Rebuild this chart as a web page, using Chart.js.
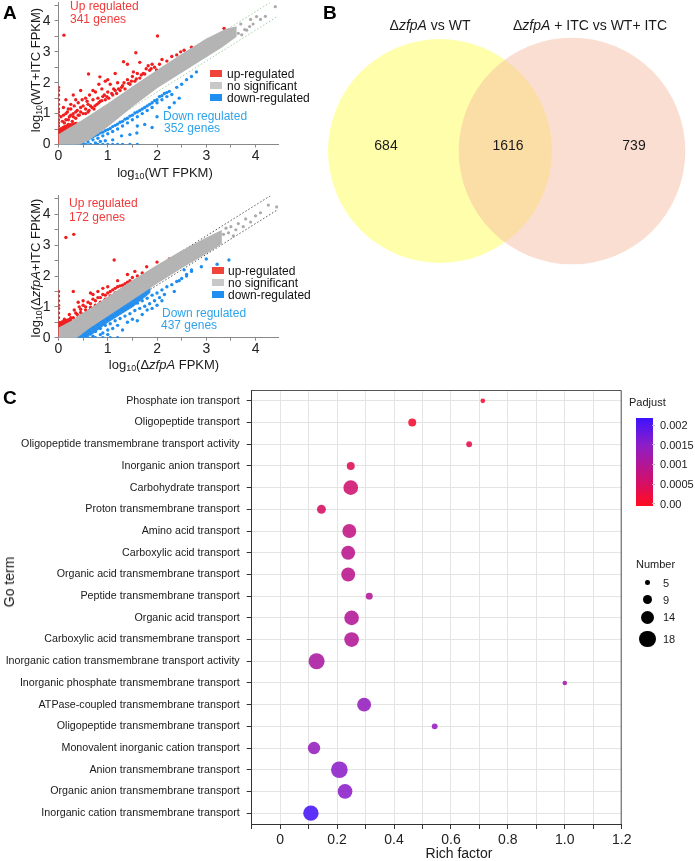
<!DOCTYPE html>
<html>
<head>
<meta charset="utf-8">
<script src="https://cdn.jsdelivr.net/npm/chart.js@4.4.1/dist/chart.umd.min.js"></script>
<style>
  body { margin: 0; background: #fff; font-family: "Liberation Sans", Arial, sans-serif; color: #1a1a1a; }
  #page { position: relative; width: 695px; height: 861px; overflow: hidden; }
  canvas { position: absolute; }
  .t { position: absolute; white-space: nowrap; line-height: 1; }
  .c { transform: translate(-50%, -50%); }
  .l { transform: translateY(-50%); }
  .v { transform: translate(-50%, -50%) rotate(-90deg); }
  .panel { font-weight: bold; font-size: 19px; color: #000; }
  sub { font-size: 68%; vertical-align: -0.3em; line-height: 0; }
  .up { color: #f23a3a; font-size: 12px; }
  .down { color: #2ea3ea; font-size: 12px; }
  .key { position: absolute; width: 12px; height: 7px; }
  .lg { font-size: 12px; color: #111; }
</style>
</head>
<body>
<div id="page">
  <canvas id="scatterWT" width="295" height="170" style="left:0;top:0"></canvas>
  <canvas id="scatterKO" width="295" height="175" style="left:0;top:190px"></canvas>
  <canvas id="venn" width="395" height="302" style="left:300px;top:0"></canvas>
  <canvas id="goChart" width="695" height="481" style="left:0;top:380px"></canvas>

  <div class="t panel" style="left:3px;top:3px">A</div>
  <div class="t panel" style="left:323px;top:3px">B</div>
  <div class="t panel" style="left:3px;top:388px">C</div>

  <!-- panel A, top -->
  <div class="t up" style="left:70px;top:0px">Up regulated</div>
  <div class="t up" style="left:70px;top:13px">341 genes</div>
  <div class="t down" style="left:163px;top:110px">Down regulated</div>
  <div class="t down" style="left:164px;top:122px">352 genes</div>
  <div class="key" style="left:210px;top:70px;background:#f0433a"></div>
  <div class="key" style="left:210px;top:82px;background:#c8c8c8"></div>
  <div class="key" style="left:210px;top:94px;background:#1f8ef1"></div>
  <div class="t lg l" style="left:227px;top:74px">up-regulated</div>
  <div class="t lg l" style="left:227px;top:86px">no significant</div>
  <div class="t lg l" style="left:227px;top:98px">down-regulated</div>
  <div class="t v" style="left:35px;top:70px;font-size:13px">log<sub>10</sub>(WT+ITC FPKM)</div>
  <div class="t c" style="left:165px;top:172px;font-size:13px">log<sub>10</sub>(WT FPKM)</div>

  <!-- panel A, bottom -->
  <div class="t up" style="left:69px;top:197px">Up regulated</div>
  <div class="t up" style="left:69px;top:211px">172 genes</div>
  <div class="t down" style="left:162px;top:307px">Down regulated</div>
  <div class="t down" style="left:161px;top:319px">437 genes</div>
  <div class="key" style="left:212px;top:267px;background:#f0433a"></div>
  <div class="key" style="left:212px;top:279px;background:#c8c8c8"></div>
  <div class="key" style="left:212px;top:291px;background:#1f8ef1"></div>
  <div class="t lg l" style="left:228px;top:271px">up-regulated</div>
  <div class="t lg l" style="left:228px;top:283px">no significant</div>
  <div class="t lg l" style="left:228px;top:295px">down-regulated</div>
  <div class="t v" style="left:35px;top:268px;font-size:13px">log<sub>10</sub>(Δ<i>zfpA</i>+ITC FPKM)</div>
  <div class="t c" style="left:164px;top:364px;font-size:13px">log<sub>10</sub>(Δ<i>zfpA</i> FPKM)</div>

  <!-- panel B -->
  <div class="t c" id="vennA" style="left:430px;top:25px;font-size:14px"></div>
  <div class="t c" id="vennB" style="left:590px;top:25px;font-size:14px"></div>
  <div class="t c" id="vennOnlyA" style="left:386px;top:145px;font-size:14px"></div>
  <div class="t c" id="vennBoth" style="left:508px;top:145px;font-size:14px"></div>
  <div class="t c" id="vennOnlyB" style="left:634px;top:145px;font-size:14px"></div>

  <!-- panel C -->
  <div class="t v" style="left:9px;top:582px;font-size:14px">Go term</div>
  <div class="t c" style="left:459px;top:853px;font-size:14px">Rich factor</div>
  <div id="legendC"></div>
</div>

<script>
// ---- panel A : scatter, WT vs WT+ITC (log10 FPKM) ----
const wtBandUpper = [[0,0.3],[0.2,0.5],[0.5,0.78],[1,1.3],[1.5,1.85],[2,2.38],[2.5,2.9],[3,3.4],[3.4,3.72],[3.6,3.8]];
const wtBandLower = [[3.6,3.5],[3.3,3.15],[3,2.85],[2.5,2.35],[2,1.85],[1.5,1.25],[1,0.6],[0.6,0.15],[0.4,0],[0,0]];
const wtGrayTail = [[3.65,3.6],[3.7,3.9],[3.78,3.72],[3.82,3.7],[3.9,4.05],[3.95,3.9],[4.02,4.14],[4.1,4.05],[4.2,4.15],[4.4,4.46],[3.72,3.55],[3.88,3.82]];
const wtUpCore = [[0,0.05],[0,0.5],[0.1,0.6],[0.25,0.68],[0.38,0.72],[0.3,0.55],[0.15,0.38],[0.05,0.15]];
const wtUp = [
  [0.11,3.54],[2.01,3.51],[1.57,2.97],[3.36,3.76],[2.94,3.27],[1.32,2.68],[1.40,2.60],[1.65,2.66],[0.61,2.28],[0.84,2.19],
  [1.99,2.41],[0.45,1.75],[0.3,1.6],[0.15,1.45],[1.15,2.3],[0.95,2.05],[2.55,3.05],[2.7,3.15],
  [0.05,0.45],[0.08,0.75],[0.1,0.95],[0.12,0.55],[0.15,0.8],[0.18,1.05],[0.2,0.65],[0.22,0.9],[0.25,1.15],[0.28,0.75],
  [0.3,1.0],[0.32,1.25],[0.35,0.85],[0.38,1.1],[0.4,1.35],[0.42,0.95],[0.45,1.2],[0.48,1.45],[0.5,1.0],[0.55,1.15],
  [0.58,1.4],[0.6,1.05],[0.63,1.6],[0.65,1.25],[0.7,1.45],[0.72,1.15],[0.75,1.7],[0.78,1.3],[0.8,1.5],[0.85,1.4],
  [0.88,1.8],[0.9,1.55],[0.95,1.45],[1.0,1.7],[1.02,1.5],[1.05,1.95],[1.1,1.6],[1.12,1.8],[1.18,1.65],[1.2,2.0],
  [1.25,1.75],[1.3,1.9],[1.35,1.8],[1.4,2.1],[1.45,1.95],[1.5,2.2],[1.55,2.05],[1.6,2.3],[1.65,2.15],[1.72,2.3],
  [1.78,2.45],[1.85,2.4],[1.9,2.6],[1.95,2.5],[2.05,2.6],[2.1,2.75],[2.2,2.7],[2.3,2.85],[2.4,2.9],[2.48,3.0],
  [0.55,1.0],[0.62,1.1],[0.68,1.2],[0.74,1.25],[0.82,1.35],[0.88,1.42],[0.93,1.6],[0.98,1.55],[1.08,1.65],[1.15,1.75],
  [1.22,1.8],[1.28,1.85],[1.33,2.0],[1.42,1.98],[1.48,2.05],[1.52,2.35],[1.58,2.12],[1.68,2.25],[1.75,2.28],[1.82,2.55],
  [1.88,2.45],[0.2,0.8],[0.25,0.95],[0.3,0.9],[0.35,1.05],[0.4,0.95],[0.45,1.05],[0.5,1.25],[0.12,0.7],[0.15,1.0],
  [0.2,1.15],[0.35,1.45],[0.55,1.5],[0.7,1.75],[0.82,1.95],[1.0,2.1],[0.1,1.2],[0.05,0.9],[0.25,1.3],[0.6,1.3],
  [0,0.05],[0,0.15],[0,0.25],[0,0.35],[0,0.5],[0,0.6],[0,0.7],[0,0.8],[0,0.95],[0,1.05],[0,1.15],[0,1.3],
  [0,1.45],[0,1.6],[0,1.75],[0,1.85]
];
const wtDown = [
  [0.05,0],[0.15,0],[0.25,0],[0.35,0],[0.45,0],[0.55,0],[0.65,0],[0.8,0],[0.9,0],[1.0,0],[1.1,0],[1.2,0],[1.3,0],[1.45,0],[1.6,0],
  [0.2,0.02],[0.3,0.05],[0.4,0.02],[0.45,0.1],[0.5,0.05],[0.55,0.15],[0.6,0.08],[0.65,0.22],[0.7,0.15],[0.75,0.3],
  [0.8,0.2],[0.85,0.38],[0.9,0.28],[0.95,0.45],[1.0,0.35],[1.05,0.52],[1.1,0.42],[1.15,0.62],[1.2,0.5],[1.25,0.72],
  [1.3,0.6],[1.35,0.82],[1.4,0.7],[1.45,0.92],[1.5,0.8],[1.55,1.02],[1.6,0.9],[1.65,1.1],[1.7,1.0],[1.75,1.2],
  [1.8,1.1],[1.85,1.3],[1.9,1.2],[1.95,1.42],[2.0,1.35],[2.05,1.55],[2.1,1.45],[2.15,1.65],[2.2,1.55],[2.25,1.72],
  [2.3,1.62],[2.4,1.85],[2.5,1.95],[2.6,2.1],[2.7,2.2],[2.8,2.35],
  [1.28,0.28],[1.59,0.37],[1.45,0.32],[1.1,0.15],[0.95,0.12],[1.75,0.65],[2.0,0.9],[1.9,0.55],[2.25,1.2],[2.45,1.5],
  [2.35,1.35],[1.6,0.6],[0.85,0.1],
  [0.5,0.12],[0.6,0.18],[0.7,0.25],[0.8,0.32],[0.9,0.4],[1.0,0.48],[1.1,0.58],[1.2,0.66],[1.3,0.75],[1.4,0.85],
  [1.5,0.95],[1.6,1.05],[1.7,1.15],[1.8,1.25],[1.9,1.35],[2.0,1.45],[2.1,1.58],[2.2,1.68],[0.35,0.02],[0.75,0.05]
];

// ---- panel A : scatter, ΔzfpA vs ΔzfpA+ITC ----
const koBandUpper = [[0,0.3],[0.3,0.55],[0.6,0.88],[1,1.3],[1.5,1.83],[2,2.33],[2.5,2.8],[3,3.22],[3.3,3.45]];
const koBandLower = [[3.3,3.05],[3,2.75],[2.5,2.28],[2,1.78],[1.5,1.25],[1,0.72],[0.6,0.3],[0.35,0],[0,0]];
const koGrayTail = [[3.35,3.35],[3.45,3.4],[3.5,3.6],[3.6,3.5],[3.65,3.7],[3.75,3.6],[3.8,3.85],[3.9,3.75],[4.0,3.95],[4.1,4.05],[4.26,4.3],[4.43,4.24],[3.55,3.3],[3.4,3.55]];
const koUpCore = [[0,0.05],[0,0.5],[0.12,0.58],[0.28,0.65],[0.26,0.5],[0.12,0.33]];
const koDownCore = [[0.38,0],[0.6,0.28],[1,0.7],[1.5,1.23],[1.85,1.62],[1.85,1.45],[1.5,1.0],[1,0.5],[0.7,0.14],[0.52,0]];
const koUp = [
  [0.15,3.25],[0.31,3.35],[1.13,2.52],[2.25,2.55],[1.79,2.3],[2.0,2.45],[0.3,1.5],
  [0.05,0.2],[0.08,0.45],[0.1,0.3],[0.12,0.6],[0.15,0.4],[0.2,0.55],[0.22,0.75],[0.25,0.5],[0.3,0.65],[0.32,0.9],
  [0.38,0.75],[0.42,1.0],[0.45,0.82],[0.5,1.05],[0.55,0.9],[0.6,1.15],[0.65,0.98],[0.7,1.25],[0.75,1.05],[0.8,1.3],
  [0.85,1.15],[0.9,1.4],[0.95,1.25],[1.0,1.45],[1.05,1.35],[1.1,1.55],[1.15,1.45],[1.2,1.65],[1.25,1.5],[1.3,1.7],
  [1.35,1.6],[1.4,1.8],[1.45,1.7],[1.5,1.95],[1.6,2.0],[1.7,2.1],[1.4,2.05],[1.55,2.15],[0.65,1.45],[0.9,1.6],
  [0.15,0.55],[0.25,0.65],[0.35,0.8],[0.45,0.92],[0.55,1.0],[0.65,1.1],[0.75,1.2],[0.85,1.3],[0.95,1.38],[1.05,1.5],
  [1.15,1.6],[1.25,1.68],[1.35,1.75],[1.45,1.85],[0.5,1.2],[0.7,1.4],[0.8,1.5],[1.0,1.65],[1.2,1.85],[0.4,1.15],
  [0,0.05],[0,0.2],[0,0.35],[0,0.5],[0,0.65],[0,0.8],[0,0.95],[0,1.05],[0,1.2],[0,1.35],[0,1.5]
];
const koDown = [
  [0.1,0],[0.2,0],[0.3,0],[0.45,0],[0.6,0],[0.75,0],[0.9,0],[1.05,0],[1.2,0],
  [3.46,2.52],[3.22,2.38],[3.0,2.55],[2.9,2.3],[2.7,2.15],[2.6,2.0],[2.45,1.85],[2.35,1.5],[2.1,1.2],[1.8,0.9],
  [1.6,0.55],[1.3,0.25],[1.0,0.1],[2.55,2.2],
  [0.3,0.05],[0.4,0.08],[0.5,0.15],[0.55,0.05],[0.6,0.25],[0.65,0.12],[0.7,0.35],[0.75,0.2],[0.8,0.45],[0.85,0.3],
  [0.9,0.55],[0.95,0.4],[1.0,0.62],[1.05,0.45],[1.1,0.7],[1.15,0.55],[1.2,0.8],[1.25,0.62],[1.3,0.88],[1.35,0.7],
  [1.4,0.98],[1.45,0.78],[1.5,1.05],[1.55,0.88],[1.6,1.12],[1.65,0.95],[1.7,1.2],[1.75,1.02],[1.8,1.28],[1.85,1.1],
  [1.9,1.38],[1.95,1.2],[2.0,1.45],[2.05,1.3],[2.1,1.55],[2.15,1.4],[2.2,1.65],[2.3,1.72],[2.4,1.82],[2.5,1.92],
  [2.6,2.05],[2.7,2.2],[0.7,0.05],[0.9,0.15],[1.1,0.3],[1.2,0.4],[1.4,0.5],[1.5,0.6],[1.7,0.75],[1.9,0.95],
  [2.0,1.05],[1.0,0.25],[0.85,0.1]
];
const foldLine = [[0,0.3],[4.3,4.6]];
const foldLineLow = [[0.3,0],[4.46,4.16]];
const axisTicksA = [0, 1, 2, 3, 4];

// ---- panel B : venn ----
const vennNames = ["Δ<i>zfpA</i> vs WT", "Δ<i>zfpA</i> + ITC vs WT+ ITC"];
const vennOnlyA = 684;
const vennBoth = 1616;
const vennOnlyB = 739;

// ---- panel C : GO enrichment ----
const goTerms = [
  "Phosphate ion transport",
  "Oligopeptide transport",
  "Oligopeptide transmembrane transport activity",
  "Inorganic anion transport",
  "Carbohydrate transport",
  "Proton transmembrane transport",
  "Amino acid transport",
  "Carboxylic acid transport",
  "Organic acid transmembrane transport",
  "Peptide transmembrane transport",
  "Organic acid transport",
  "Carboxylic acid transmembrane transport",
  "Inorganic cation transmembrane transport activity",
  "Inorganic phosphate transmembrane transport",
  "ATPase-coupled transmembrane transport",
  "Oligopeptide transmembrane transport",
  "Monovalent inorganic cation transport",
  "Anion transmembrane transport",
  "Organic anion transmembrane transport",
  "Inorganic cation transmembrane transport"
];
const richFactor = [0.712, 0.464, 0.664, 0.248, 0.248, 0.145, 0.243, 0.239, 0.239, 0.313,
                    0.251, 0.251, 0.128, 1.0, 0.295, 0.543, 0.119, 0.208, 0.228, 0.108];
const geneNumber = [5, 8, 6, 8, 16, 9, 15, 15, 15, 7, 16, 16, 18, 5, 15, 6, 13, 19, 16, 17];
const padjust = [0.00005, 0.0001, 0.0003, 0.0004, 0.0006, 0.0005, 0.0008, 0.0009, 0.0009, 0.001,
                 0.001, 0.001, 0.0011, 0.0012, 0.0014, 0.0014, 0.0014, 0.0015, 0.0015, 0.0021];
const padjTicks = [0.002, 0.0015, 0.001, 0.0005, 0];
const padjTickLabels = ["0.002", "0.0015", "0.001", "0.0005", "0.00"];
const numberTicks = [5, 9, 14, 18];

// ---- helpers ----
const FONT = "'Liberation Sans', Arial, sans-serif";
Chart.defaults.font.family = FONT;
Chart.defaults.animation = false;
Chart.defaults.events = [];
Chart.defaults.plugins.legend.display = false;
Chart.defaults.plugins.tooltip.enabled = false;

const pts = (arr) => arr.map(([x, y]) => ({ x, y }));

const padjStops = [
  [0, [255, 12, 35]],
  [0.0005, [214, 14, 100]],
  [0.001, [178, 22, 150]],
  [0.0015, [140, 30, 200]],
  [0.0022, [58, 18, 255]]
];
const colorFor = (p, a) => {
  let i = 0;
  while (i < padjStops.length - 2 && p > padjStops[i + 1][0]) i++;
  const [p0, c0] = padjStops[i];
  const [p1, c1] = padjStops[i + 1];
  const t = Math.max(0, Math.min(1, (p - p0) / (p1 - p0)));
  const c = c0.map((v, k) => Math.round(v + (c1[k] - v) * t));
  return `rgba(${c[0]},${c[1]},${c[2]},${a})`;
};
// point radius for a gene count (matches the size legend)
const sizeFor = (n) => 2.3 + 2.85 * (Math.sqrt(n) - Math.sqrt(5));

// fixed axis boxes, no extra label padding
const fixX = (h) => (sc) => { sc.height = h; sc.paddingLeft = 0; sc.paddingRight = 0; };
const fixY = (w) => (sc) => { sc.width = w; sc.paddingTop = 0; sc.paddingBottom = 0; };

// ---- scatter charts ----
const makeScatter = (id, s, padTop, xAxisH, lineColor) => {
  return new Chart(document.getElementById(id), {
    type: "scatter",
    data: {
      datasets: [
        { type: "line", data: pts(s.bandUpper.concat(s.bandLower)), fill: "shape", backgroundColor: "#b4b4b4",
          borderColor: "#b4b4b4", borderWidth: 1.5, pointRadius: 0, tension: 0, order: 1 },
        { data: pts(s.tail), backgroundColor: "#ababab", pointRadius: 1.6, borderWidth: 0, order: 2 },
        { type: "line", data: pts(s.upCore), fill: "shape", backgroundColor: "#f02020",
          borderColor: "#f02020", borderWidth: 1, pointRadius: 0, tension: 0, order: 4 },
        { data: pts(s.up), backgroundColor: "#f01e1e", pointRadius: 1.7, borderWidth: 0, order: 3 },
        s.downCore
          ? { type: "line", data: pts(s.downCore), fill: "shape", backgroundColor: "#2a90ee",
              borderColor: "#2a90ee", borderWidth: 1, pointRadius: 0, tension: 0, order: 6 }
          : { data: [], order: 6 },
        { data: pts(s.down), backgroundColor: "#1e8ff0", pointRadius: 1.7, borderWidth: 0, order: 5 },
        { type: "line", data: pts(foldLine), borderColor: lineColor, borderWidth: 1, borderDash: [1.5, 2],
          pointRadius: 0, fill: false, order: 7 },
        { type: "line", data: pts(foldLineLow), borderColor: lineColor, borderWidth: 1, borderDash: [1.5, 2],
          pointRadius: 0, fill: false, order: 7 }
      ]
    },
    options: {
      responsive: false,
      devicePixelRatio: 1,
      layout: { autoPadding: false, padding: { top: padTop, right: 16.8, left: 0, bottom: 0 } },
      scales: {
        x: {
          type: "linear", min: 0, max: 4.46,
          ticks: { stepSize: 0.5, includeBounds: false, autoSkip: false, maxRotation: 0, padding: 0,
                   color: "#222", font: { size: 14 },
                   callback: (v) => (axisTicksA.includes(v) ? String(v) : "") },
          grid: { drawOnChartArea: false, tickLength: 3, tickColor: "#888" },
          border: { color: "#888" },
          afterFit: fixX(xAxisH)
        },
        y: {
          type: "linear", min: 0, max: 4.6,
          ticks: { stepSize: 0.5, includeBounds: false, autoSkip: false, padding: 4,
                   color: "#222", font: { size: 14 },
                   callback: (v) => (axisTicksA.includes(v) ? String(v) : "") },
          grid: { drawOnChartArea: false, tickLength: 4, tickColor: "#888" },
          border: { color: "#888" },
          afterFit: fixY(58.5)
        }
      }
    }
  });
};

makeScatter("scatterWT",
  { bandUpper: wtBandUpper, bandLower: wtBandLower, tail: wtGrayTail, upCore: wtUpCore, up: wtUp, down: wtDown },
  2.4, 25.5, "#9fd09f");
makeScatter("scatterKO",
  { bandUpper: koBandUpper, bandLower: koBandLower, tail: koGrayTail, upCore: koUpCore, downCore: koDownCore, up: koUp, down: koDown },
  5.8, 27.3, "#555");

// ---- venn ----
document.getElementById("vennA").innerHTML = vennNames[0];
document.getElementById("vennB").innerHTML = vennNames[1];
document.getElementById("vennOnlyA").textContent = vennOnlyA;
document.getElementById("vennBoth").textContent = vennBoth;
document.getElementById("vennOnlyB").textContent = vennOnlyB;

const totalA = vennOnlyA + vennBoth;
const totalB = vennOnlyB + vennBoth;
const baseR = 112;
new Chart(document.getElementById("venn"), {
  type: "bubble",
  data: {
    datasets: [
      { data: [{ x: 1, y: 0, r: baseR * Math.sqrt(totalB / totalA) }], backgroundColor: "rgba(247,185,160,0.47)",
        borderWidth: 0, clip: false, order: 1 },
      { data: [{ x: 0, y: 0, r: baseR }], backgroundColor: "rgba(255,255,0,0.33)",
        borderWidth: 0, clip: false, order: 2 }
    ]
  },
  options: {
    responsive: false,
    devicePixelRatio: 1,
    layout: { autoPadding: false, padding: 0 },
    scales: {
      x: { display: false, min: -1.0606, max: 1.9318 },
      y: { display: false, min: -1, max: 1 }
    }
  }
});

// ---- GO bubble chart ----
const framePlugin = {
  id: "frame",
  afterDatasetsDraw(chart) {
    const { ctx, chartArea: a } = chart;
    ctx.save();
    ctx.strokeStyle = "#555";
    ctx.lineWidth = 1;
    ctx.beginPath();
    ctx.moveTo(a.left, a.top + 0.5);
    ctx.lineTo(a.right - 0.5, a.top + 0.5);
    ctx.lineTo(a.right - 0.5, a.bottom);
    ctx.stroke();
    ctx.restore();
  }
};

new Chart(document.getElementById("goChart"), {
  type: "bubble",
  data: {
    datasets: [{
      data: goTerms.map((t, i) => ({ x: richFactor[i], y: t, r: sizeFor(geneNumber[i]) })),
      backgroundColor: padjust.map((p) => colorFor(p, 0.88)),
      borderWidth: 0
    }]
  },
  options: {
    responsive: false,
    devicePixelRatio: 1,
    layout: { autoPadding: false, padding: { top: 10, right: 73.3, left: 0, bottom: 0 } },
    scales: {
      x: {
        type: "linear", min: -0.1, max: 1.2,
        ticks: {
          stepSize: 0.1, autoSkip: false, maxRotation: 0, padding: 3, color: "#222", font: { size: 14 },
          callback: (v) => {
            const k = Math.round(v * 10);
            if (k < 0 || k % 2) return "";
            return k === 0 ? "0" : (k / 10).toFixed(1);
          }
        },
        grid: { color: "#e4e4e4", tickColor: "#333", tickLength: 5 },
        border: { color: "#333" },
        afterFit: fixX(37)
      },
      y: {
        type: "category", labels: goTerms, offset: true,
        ticks: { autoSkip: false, padding: 7, color: "#1a1a1a", font: { size: 10.7 } },
        grid: { color: "#e4e4e4", offset: false, tickColor: "#333", tickLength: 5 },
        border: { color: "#333" },
        afterFit: fixY(251.7)
      }
    }
  },
  plugins: [framePlugin]
});

// ---- panel C legends ----
const legend = document.getElementById("legendC");
let html = `<div class="t l" style="left:629px;top:402px;font-size:11px">Padjust</div>`;
const barTop = 418, barBottom = 506, pTop = 0.00218, pBottom = -0.00006;
const gradStops = [];
for (let k = 0; k <= 10; k++) {
  const p = pBottom + (pTop - pBottom) * (k / 10);
  gradStops.push(`${colorFor(Math.max(0, p), 1)} ${k * 10}%`);
}
html += `<div style="position:absolute;left:636px;top:${barTop}px;width:17px;height:${barBottom - barTop}px;background:linear-gradient(to top, ${gradStops.join(",")})"></div>`;
padjTicks.forEach((p, i) => {
  const y = barBottom - ((p - pBottom) / (pTop - pBottom)) * (barBottom - barTop);
  html += `<div style="position:absolute;left:652px;top:${y - 0.5}px;width:3px;height:1px;background:#bbb"></div>`;
  html += `<div class="t l" style="left:660px;top:${y}px;font-size:11px">${padjTickLabels[i]}</div>`;
});
html += `<div class="t l" style="left:636px;top:564px;font-size:11px">Number</div>`;
const numberY = [582.7, 599.5, 617.3, 639.3];
numberTicks.forEach((n, i) => {
  const r = sizeFor(n);
  html += `<div style="position:absolute;left:${647.5 - r}px;top:${numberY[i] - r}px;width:${2 * r}px;height:${2 * r}px;border-radius:50%;background:#000"></div>`;
  html += `<div class="t l" style="left:663px;top:${numberY[i]}px;font-size:11px">${n}</div>`;
});
legend.innerHTML = html;
</script>
</body>
</html>
